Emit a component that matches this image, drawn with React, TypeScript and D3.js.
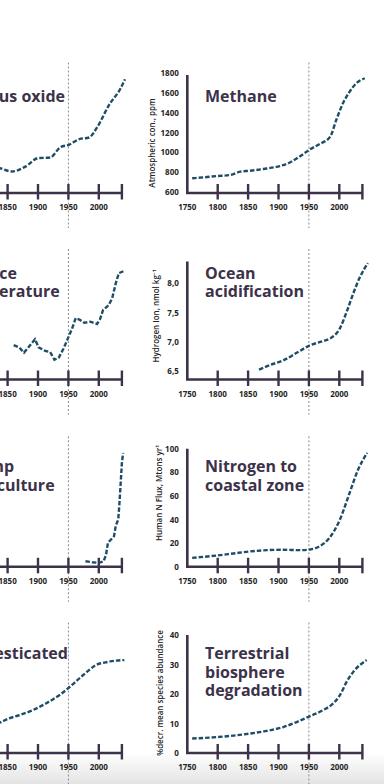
import React, { useEffect, useRef } from 'react';
import * as d3 from 'd3';

// x axis
const yearTicks = [1800, 1850, 1900, 1950, 2000, 2038];
const yearLabels = [1750, 1800, 1850, 1900, 1950, 2000];

// Nitrous oxide, ppb
const n2oYears = [1760, 1800, 1837, 1857, 1880, 1900, 1920, 1937, 1951, 1968, 1984, 1998, 2017, 2036, 2043];
const n2oValues = [276, 274, 271.8, 269.5, 272.9, 278.5, 278.9, 285.9, 287.5, 291.3, 292.4, 299.8, 314.4, 325.6, 331.6];

// Methane, ppm
const methaneYears = [1758, 1777, 1799, 1820, 1837, 1853, 1875, 1902, 1918, 1932, 1952, 1968, 1985, 1995, 2006, 2017, 2028, 2042];
const methaneValues = [736, 746, 759, 769, 803, 813, 830, 860, 894, 945, 1030, 1084, 1158, 1327, 1496, 1614, 1699, 1750];
const methaneTicks = [600, 800, 1000, 1200, 1400, 1600, 1800];

// Surface temperature anomaly
const tempYears = [1860, 1869, 1877, 1885, 1895, 1901, 1912, 1920, 1927, 1934, 1942, 1949, 1956, 1962, 1969, 1976, 1986, 1997, 2002, 2007, 2016, 2022, 2028, 2033, 2042];
const tempValues = [-0.21, -0.25, -0.34, -0.24, -0.11, -0.25, -0.31, -0.33, -0.46, -0.43, -0.27, -0.1, 0.07, 0.25, 0.22, 0.17, 0.19, 0.15, 0.23, 0.39, 0.47, 0.59, 0.85, 1.02, 1.06];

// Ocean acidification, hydrogen ion
const oceanYears = [1868, 1886, 1908, 1930, 1952, 1973, 1987, 2001, 2012, 2023, 2034, 2047];
const oceanValues = [6.52, 6.6, 6.68, 6.81, 6.94, 7.01, 7.07, 7.23, 7.51, 7.83, 8.11, 8.35];
const oceanTicks = [6.5, 7.0, 7.5, 8.0];

// Shrimp aquaculture
const shrimpYears = [1978, 1989, 2000, 2008, 2012, 2015, 2025, 2028, 2032, 2034, 2036, 2038, 2040];
const shrimpValues = [4.7, 3.9, 3.4, 4.7, 10.4, 20.3, 25.9, 35, 40, 54.2, 71.2, 88.1, 96.6];

// Nitrogen to coastal zone
const nitrogenYears = [1758, 1799, 1826, 1853, 1881, 1908, 1934, 1952, 1968, 1984, 2001, 2017, 2031, 2046];
const nitrogenValues = [7.6, 9.6, 11.3, 13.0, 14.1, 14.4, 14.1, 14.7, 17.5, 24.6, 40, 62.7, 82.5, 96.6];
const nitrogenTicks = [0, 20, 40, 60, 80, 100];

// Domesticated land
const landYears = [1760, 1800, 1836, 1852, 1869, 1891, 1913, 1935, 1951, 1968, 1984, 1995, 2011, 2028, 2042];
const landValues = [6.5, 8.2, 10.2, 11.7, 12.8, 14.5, 16.8, 19.6, 22.2, 25.3, 28.1, 29.8, 30.7, 31.3, 31.5];

// Terrestrial biosphere degradation
const biosphereYears = [1758, 1799, 1826, 1853, 1881, 1908, 1930, 1952, 1973, 1990, 2001, 2012, 2023, 2045];
const biosphereValues = [4.9, 5.4, 5.9, 6.6, 7.5, 8.8, 10.5, 12.5, 14.5, 16.8, 19.6, 24.1, 27.5, 31.5];
const biosphereTicks = [0, 10, 20, 30, 40];

const panels = [
  { col: 0, row: 0, title: ['Nitrous oxide'], years: n2oYears, values: n2oValues, domain: [255, 334.5], ticks: [260, 280, 300, 320], yLabel: 'Atmospheric con., ppb', jagged: false },
  { col: 1, row: 0, title: ['Methane'], years: methaneYears, values: methaneValues, domain: [587, 1783], ticks: methaneTicks, yLabel: 'Atmospheric con., ppm', jagged: false },
  { col: 0, row: 1, title: ['Surface', 'temperature'], years: tempYears, values: tempValues, domain: [-0.8, 1.22], ticks: [-0.5, 0, 0.5, 1], yLabel: 'Temperature anomaly, °C', jagged: true },
  { col: 1, row: 1, title: ['Ocean', 'acidification'], years: oceanYears, values: oceanValues, domain: [6.352, 8.377], ticks: oceanTicks, yLabel: 'Hydrogen Ion, nmol kg⁻¹', jagged: false, comma: true },
  { col: 0, row: 2, title: ['Shrimp', 'aquaculture'], years: shrimpYears, values: shrimpValues, domain: [0, 100], ticks: [0, 20, 40, 60, 80, 100], yLabel: 'Shrimp production, Mtons', jagged: true },
  { col: 1, row: 2, title: ['Nitrogen to', 'coastal zone'], years: nitrogenYears, values: nitrogenValues, domain: [0, 100], ticks: nitrogenTicks, yLabel: 'Human N Flux, Mtons yr¹', jagged: false },
  { col: 0, row: 3, title: ['Domesticated', 'land'], years: landYears, values: landValues, domain: [0, 40], ticks: [0, 10, 20, 30, 40], yLabel: '% of total land area', jagged: false },
  { col: 1, row: 3, title: ['Terrestrial', 'biosphere', 'degradation'], years: biosphereYears, values: biosphereValues, domain: [0, 40], ticks: biosphereTicks, yLabel: '%decr. mean species abundance', jagged: false },
];

// layout
const colX = [-53.2, 187.3];
const titleDx = [10, 17.7];
const rowY = [193, 379.5, 566.8, 753];
const titleDy = [-91.3, -100.5, -94.5, -93.7];
const yLabelPos = [[-35.6, -50], [-31.3, -63.5], [-28, -73.8], [-27.3, -60]];
const pxPerYear = 0.608;
const axisH = 118;

const ink = '#3c3249';
const lineColor = '#1f4d66';
const font = '"Open Sans", "Noto Sans", sans-serif';

const Chart = () => {
  const svgRef = useRef(null);

  useEffect(() => {
    const svg = d3.select(svgRef.current);
    svg.selectAll('*').remove();

    const defs = svg.append('defs');
    const grad = defs.append('linearGradient').attr('id', 'fade').attr('x1', 0).attr('x2', 0).attr('y1', 0).attr('y2', 1);
    grad.append('stop').attr('offset', '0%').attr('stop-color', '#ffffff');
    grad.append('stop').attr('offset', '100%').attr('stop-color', '#e4e4e4');
    svg.append('rect').attr('x', 0).attr('y', 752).attr('width', 384).attr('height', 32).attr('fill', 'url(#fade)');

    panels.forEach(p => {
      const ax = colX[p.col];
      const ay = rowY[p.row];
      const x = d3.scaleLinear().domain([1750, 2040]).range([ax, ax + 290 * pxPerYear]);
      const y = d3.scaleLinear().domain(p.domain).range([ay, ay - axisH]);
      const g = svg.append('g');

      // 1950 marker
      g.append('line')
        .attr('x1', x(1950)).attr('x2', x(1950))
        .attr('y1', ay - 130.5).attr('y2', ay + 35)
        .attr('stroke', '#8a8a8a').attr('stroke-width', 1)
        .attr('stroke-dasharray', '2 2');

      // title
      const t = g.append('text')
        .attr('font-family', font).attr('font-weight', 700)
        .attr('font-size', 16).attr('fill', ink);
      p.title.forEach((s, i) => {
        t.append('tspan').attr('x', ax + titleDx[p.col]).attr('y', ay + titleDy[p.row] + i * 18.3).text(s);
      });

      // axes
      g.append('path')
        .attr('d', `M${ax},${y(p.domain[1])}V${ay}H${x(2038)}`)
        .attr('fill', 'none').attr('stroke', ink).attr('stroke-width', 2.6);
      g.selectAll('line.tick')
        .data(yearTicks)
        .join('line')
        .attr('class', 'tick')
        .attr('x1', d => x(d)).attr('x2', d => x(d))
        .attr('y1', ay - 9).attr('y2', ay + 6.5)
        .attr('stroke', ink).attr('stroke-width', 2.4);
      g.selectAll('text.xl')
        .data(yearLabels)
        .join('text')
        .attr('class', 'xl')
        .attr('x', d => x(d)).attr('y', ay + 17)
        .attr('text-anchor', 'middle')
        .attr('font-family', font).attr('font-weight', 700).attr('font-size', 8)
        .attr('fill', '#262626')
        .text(d => d);

      const fmt = (v: number) => (p.comma ? d3.format('.1f')(v).replace('.', ',') : String(v));
      g.selectAll('text.yl')
        .data(p.ticks)
        .join('text')
        .attr('class', 'yl')
        .attr('x', ax - 8.5).attr('y', d => y(d) + 3)
        .attr('text-anchor', 'end')
        .attr('font-family', font).attr('font-weight', 700).attr('font-size', 8)
        .attr('fill', '#262626')
        .text(d => fmt(d));

      const [ldx, ldy] = yLabelPos[p.row];
      g.append('text')
        .attr('transform', `translate(${ax + ldx},${ay + ldy}) rotate(-90)`)
        .attr('text-anchor', 'middle').attr('dy', '0.35em')
        .attr('font-family', font).attr('font-weight', 600).attr('font-size', 8)
        .attr('fill', '#262626')
        .text(p.yLabel);

      // series
      const pts = p.years.map((yr, i) => [yr, p.values[i]] as [number, number]);
      const line = d3.line<[number, number]>()
        .x(d => x(d[0]))
        .y(d => y(d[1]))
        .curve(p.jagged ? d3.curveLinear : d3.curveMonotoneX);
      g.append('path')
        .attr('d', line(pts))
        .attr('fill', 'none')
        .attr('stroke', lineColor)
        .attr('stroke-width', 2.4)
        .attr('stroke-dasharray', '4.5 2');
    });
  }, []);

  return (
    <svg ref={svgRef} width={384} height={784}
      style={{ position: 'absolute', left: 0, top: 0, display: 'block', background: '#fff' }} />
  );
};

const App = () => <Chart />;

export default App;
